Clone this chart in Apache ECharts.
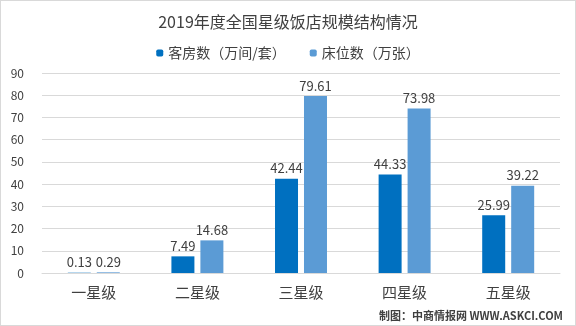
<!DOCTYPE html>
<html><head><meta charset="utf-8">
<script src="https://cdn.jsdelivr.net/npm/echarts@6/dist/echarts.min.js"></script>
<style>html,body{margin:0;padding:0;background:#fff}#c{width:574px;height:324px;border:1px solid #d9d9d9}</style>
</head><body><div id="c"></div>
<script>
const categories = ['一星级','二星级','三星级','四星级','五星级'];
const rooms = [0.13, 7.49, 42.44, 44.33, 25.99];
const beds = [0.29, 14.68, 79.61, 73.98, 39.22];
const seriesNames = ['客房数（万间/套）','床位数（万张）'];
const yTicks = {min:0, max:90, interval:10};
const font = '"Noto Sans CJK SC", "Noto Sans", sans-serif';
const chart = echarts.init(document.getElementById('c'));
const lbl = {show:true, position:'top', color:'#404040', fontSize:13, fontFamily:font, distance:4};
chart.setOption({
  animation:false,
  title:{text:'2019年度全国星级饭店规模结构情况', left:'center', top:8,
    textStyle:{fontSize:16, fontWeight:'normal', color:'#404040', fontFamily:font}},
  legend:{data:seriesNames, top:40, left:'center', itemWidth:7, itemHeight:7, itemGap:24,
    textStyle:{fontSize:14, color:'#404040', fontFamily:font}},
  grid:{left:41, right:15, top:72, bottom:52},
  xAxis:{type:'category', data:categories, axisTick:{show:false},
    axisLine:{lineStyle:{color:'#d9d9d9'}},
    axisLabel:{fontSize:15, color:'#404040', margin:12, fontFamily:font}},
  yAxis:{type:'value', min:yTicks.min, max:yTicks.max, interval:yTicks.interval,
    axisLabel:{fontSize:12, color:'#404040', margin:18, fontFamily:font},
    splitLine:{lineStyle:{color:'#d9d9d9'}}, axisLine:{show:false}},
  graphic:[{type:'text', right:12, bottom:4, style:{text:'制图：中商情报网 WWW.ASKCI.COM', fontSize:11, fontWeight:'bold', fill:'#404040', fontFamily:font}}],
  series:[
    {name:seriesNames[0], type:'bar', data:rooms, barWidth:23, barGap:'26%', itemStyle:{color:'#0070C0'}, label:lbl},
    {name:seriesNames[1], type:'bar', data:beds, barWidth:23, itemStyle:{color:'#5B9BD5'}, label:lbl}
  ]
});
</script></body></html>
